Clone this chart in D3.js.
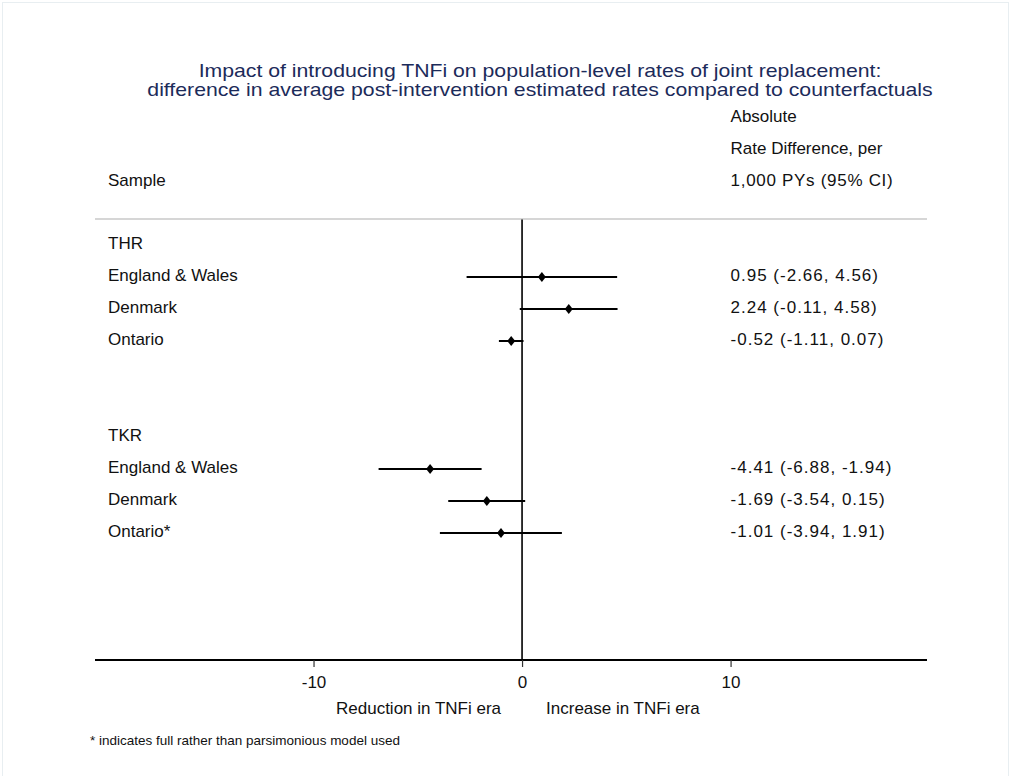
<!DOCTYPE html>
<html>
<head>
<meta charset="utf-8">
<script src="https://cdn.jsdelivr.net/npm/d3@7"></script>
<style>
  html, body { margin: 0; padding: 0; background: #fff; }
  svg { display: block; font-family: "Liberation Sans", Arial, Helvetica, sans-serif; }
</style>
</head>
<body>
<svg id="chart" width="1011" height="776"></svg>
<script>
// Forest plot: TNFi effect on joint replacement rates
const titleLines = [
  "Impact of introducing TNFi on population-level rates of joint replacement:",
  "difference in average post-intervention estimated rates compared to counterfactuals"
];
const headerRight = ["Absolute", "Rate Difference, per", "1,000 PYs (95% CI)"];
const headerLeft = "Sample";

// row labels in display order; group headings have no estimate
const rowLabels = ["THR", "England & Wales", "Denmark", "Ontario", "", "",
                   "TKR", "England & Wales", "Denmark", "Ontario*"];
const estimates = [null, 0.95, 2.24, -0.52, null, null, null, -4.41, -1.69, -1.01];
const lowerCI   = [null, -2.66, -0.11, -1.11, null, null, null, -6.88, -3.54, -3.94];
const upperCI   = [null, 4.56, 4.58, 0.07, null, null, null, -1.94, 0.15, 1.91];

const tickValues = [-10, 0, 10];
const axisNotes = ["Reduction in TNFi era", "Increase in TNFi era"];
const footnote = "* indicates full rather than parsimonious model used";

const svg = d3.select("#chart");

// faint outer frame
svg.append("rect")
  .attr("x", 2.5).attr("y", 2.5).attr("width", 1006).attr("height", 780)
  .attr("fill", "none").attr("stroke", "#e8eef1").attr("stroke-width", 1);

const x = d3.scaleLinear().domain([-20.48, 19.42]).range([95, 927]);
const y = d3.scalePoint().domain(d3.range(rowLabels.length)).range([245, 533]);
const headerY = d3.scalePoint().domain(d3.range(3)).range([118, 182]);

const BODY = 17;
// plain hyphen for negatives, as printed in the table
const num = v => d3.format(".2f")(v).replace("\u2212", "-");
const fmtCI = (i) => `${num(estimates[i])} (${num(lowerCI[i])}, ${num(upperCI[i])})`;

// title, slightly widened type
svg.append("g")
  .attr("transform", "translate(540,0) scale(1.18,1)")
  .selectAll("text").data(titleLines).join("text")
  .attr("x", 0).attr("y", (d, i) => 77 + i * 19.5)
  .attr("text-anchor", "middle")
  .attr("fill", "#1c2b5a")
  .attr("font-size", 18)
  .text(d => d);

// column headers
svg.append("g").selectAll("text").data(headerRight).join("text")
  .attr("x", x(10)).attr("y", (d, i) => headerY(i))
  .attr("dominant-baseline", "middle")
  .attr("font-size", BODY).attr("fill", "#111")
  .attr("letter-spacing", (d, i) => i === 2 ? 0.7 : 0)
  .text(d => d);
svg.append("text")
  .attr("x", 108).attr("y", headerY(2))
  .attr("dominant-baseline", "middle")
  .attr("font-size", BODY).attr("fill", "#111")
  .text(headerLeft);

// separator below headers
svg.append("line")
  .attr("x1", x.range()[0]).attr("x2", x.range()[1])
  .attr("y1", 219).attr("y2", 219)
  .attr("stroke", "#c8c8c8").attr("stroke-width", 1.3);

// row labels
svg.append("g").selectAll("text").data(rowLabels).join("text")
  .attr("x", 108).attr("y", (d, i) => y(i))
  .attr("dominant-baseline", "middle")
  .attr("font-size", BODY).attr("fill", "#111")
  .text(d => d);

// estimate text column
const idx = d3.range(rowLabels.length).filter(i => estimates[i] !== null);
svg.append("g").selectAll("text").data(idx).join("text")
  .attr("x", x(10)).attr("y", i => y(i))
  .attr("dominant-baseline", "middle")
  .attr("font-size", BODY).attr("fill", "#111")
  .attr("letter-spacing", 1)
  .text(i => fmtCI(i));

// null line
const axisY = 660;
svg.append("line")
  .attr("x1", x(0)).attr("x2", x(0))
  .attr("y1", 219.5).attr("y2", axisY)
  .attr("stroke", "#000").attr("stroke-width", 1.6);

// confidence intervals
svg.append("g").selectAll("line").data(idx).join("line")
  .attr("x1", i => x(lowerCI[i])).attr("x2", i => x(upperCI[i]))
  .attr("y1", i => y(i)).attr("y2", i => y(i))
  .attr("stroke", "#000").attr("stroke-width", 2);

// point estimates (diamonds)
svg.append("g").selectAll("path").data(idx).join("path")
  .attr("transform", i => `translate(${x(estimates[i])},${y(i)})`)
  .attr("d", "M0,-5L4,0L0,5L-4,0Z")
  .attr("fill", "#000");

// x axis
const axis = d3.axisBottom(x).tickValues(tickValues).tickSize(7).tickPadding(9)
  .tickFormat(d => String(d));
const gx = svg.append("g").attr("transform", `translate(0,${axisY})`).call(axis);
gx.select(".domain").attr("stroke", "#000").attr("stroke-width", 2)
  .attr("d", `M${x.range()[0]},0H${x.range()[1]}`);
gx.selectAll(".tick line").attr("stroke", "#333").attr("stroke-width", 1.2);
gx.selectAll(".tick text")
  .attr("font-family", "'Liberation Sans', Arial, sans-serif")
  .attr("font-size", BODY).attr("fill", "#111");

// direction notes under the axis
svg.append("text").attr("x", x(0) - 21).attr("y", 714)
  .attr("text-anchor", "end").attr("font-size", BODY).attr("fill", "#111")
  .text(axisNotes[0]);
svg.append("text").attr("x", x(0) + 24).attr("y", 714)
  .attr("text-anchor", "start").attr("font-size", BODY).attr("fill", "#111")
  .text(axisNotes[1]);

// footnote
svg.append("text").attr("x", 90).attr("y", 745)
  .attr("font-size", 13.5).attr("fill", "#111")
  .text(footnote);
</script>
</body>
</html>
